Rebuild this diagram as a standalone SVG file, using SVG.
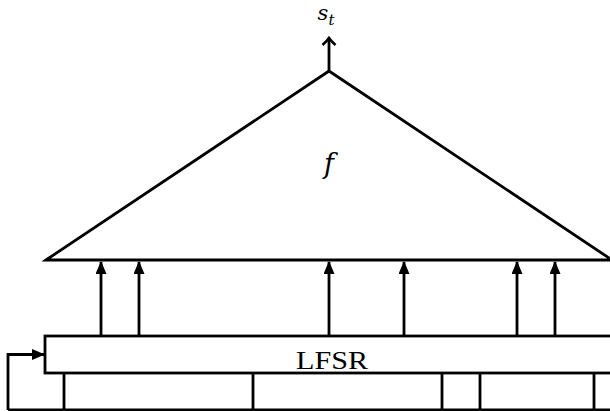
<svg xmlns="http://www.w3.org/2000/svg" width="610" height="411" viewBox="0 0 610 411">
<style>
.s{fill:none;stroke:#000;stroke-width:2.8;stroke-linejoin:miter}
.t{font-family:"Liberation Serif","DejaVu Serif",serif;fill:#000}
.i{font-family:"DejaVu Serif","Liberation Serif",serif;font-style:italic}
</style>
<defs>
<marker id="ah" markerWidth="13" markerHeight="11" refX="12" refY="5.5" orient="auto" markerUnits="userSpaceOnUse" viewBox="0 0 13 11">
<path d="M0,0 L13,5.5 L0,11 Z" fill="#000"/>
</marker>
<marker id="oh" markerWidth="16" markerHeight="16" refX="8" refY="8" orient="auto" markerUnits="userSpaceOnUse" viewBox="0 0 16 16">
<path d="M1,1.5 Q5,6 8,8 Q5,10 1,14.5" fill="none" stroke="#000" stroke-width="2.6"/>
</marker>
</defs>
<g id="f">
<path class="s" d="M46,260 L329,71 L612,260 Z"/>
<text class="t i" x="329" y="173" font-size="27" text-anchor="middle">f</text>
</g>
<g id="output">
<text class="t i" x="326" y="20" font-size="21" text-anchor="middle">s<tspan font-size="15" dy="5">t</tspan></text>
</g>
<g id="lfsr">
<rect class="s" x="45" y="336" width="570" height="37"/>
<text class="t" x="296" y="369" font-size="25" textLength="72" lengthAdjust="spacingAndGlyphs">LFSR</text>
</g>
<g id="cells">
<path class="s" d="M64,373 V411 M253,373 V411 M442,373 V411 M480,373 V411 M594,373 V411 M8,410 H612"/>
</g>
<g id="connectors">
<path class="s" d="M329,71 V38" marker-end="url(#oh)"/>
<path class="s" d="M101,336 V262" marker-end="url(#ah)"/>
<path class="s" d="M139,336 V262" marker-end="url(#ah)"/>
<path class="s" d="M329,336 V262" marker-end="url(#ah)"/>
<path class="s" d="M404,336 V262" marker-end="url(#ah)"/>
<path class="s" d="M517,336 V262" marker-end="url(#ah)"/>
<path class="s" d="M555,336 V262" marker-end="url(#ah)"/>
<path class="s" d="M8,410 V354.5 H44" marker-end="url(#ah)"/>
</g>
</svg>
